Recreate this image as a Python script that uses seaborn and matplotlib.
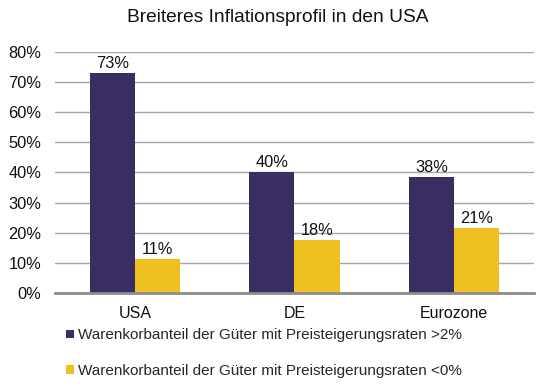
import pandas as pd
import matplotlib
matplotlib.use("Agg")
import matplotlib.pyplot as plt
import seaborn as sns

regions = ["USA", "DE", "Eurozone"]
series = ["Warenkorbanteil der Güter mit Preisteigerungsraten >2%",
          "Warenkorbanteil der Güter mit Preisteigerungsraten <0%"]
above_2 = [72.9, 40.2, 38.4]
below_0 = [11.4, 17.7, 21.4]
yticks = [0, 10, 20, 30, 40, 50, 60, 70, 80]

df = pd.DataFrame({
    "region": regions * 2,
    "series": [series[0]] * 3 + [series[1]] * 3,
    "value": above_2 + below_0,
})

sns.set_style("white")
plt.rcParams["font.family"] = ["Liberation Sans", "DejaVu Sans"]

fig = plt.figure(figsize=(5.43, 3.9), dpi=100)
ax = fig.add_axes([0.1017, 0.2487, 0.8813, 0.6187])

sns.barplot(data=df, x="region", y="value", hue="series",
            palette=["#3A2D61", "#EFC120"], width=0.565, gap=0,
            saturation=1, linewidth=0, ax=ax, legend=True)

for cont in ax.containers:
    ax.bar_label(cont, labels=[f"{b.get_height():.0f}%" for b in cont],
                 padding=1.5, fontsize=11.8, color="#111111")

ax.set_ylim(0, 80)
ax.set_yticks(yticks)
ax.set_yticklabels([f"{t}%" for t in yticks], fontsize=11.8, color="#111111")
ax.tick_params(axis="x", labelsize=11.5, colors="#111111", length=0, pad=9)
ax.tick_params(axis="y", length=0, pad=10)
ax.set_xlabel("")
ax.set_ylabel("")
ax.yaxis.grid(True, color="#A6A6A6", linewidth=1)
ax.set_axisbelow(True)
for s in ["top", "right", "left"]:
    ax.spines[s].set_visible(False)
ax.spines["bottom"].set_color("#8C8C8C")
ax.spines["bottom"].set_linewidth(2)

handles, labels = ax.get_legend_handles_labels()
ax.legend(handles, labels, loc="upper left", bbox_to_anchor=(0.122, 0.158),
          bbox_transform=fig.transFigure, frameon=False, fontsize=11,
          handlelength=0.5, handleheight=0.5, handletextpad=0.3,
          labelspacing=1.4, borderaxespad=0, borderpad=0)

fig.text(0.512, 0.955, "Breiteres Inflationsprofil in den USA",
         ha="center", va="center", fontsize=13.8, color="#111111")

fig.savefig("out.png", dpi=100)
